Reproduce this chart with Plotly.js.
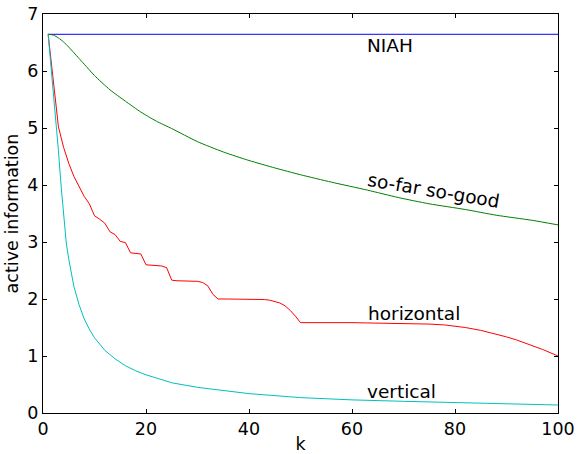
<!DOCTYPE html>
<html>
<head>
<meta charset="utf-8">
<script src="https://cdn.plot.ly/plotly-3.0.1.min.js"></script>
<style>html,body{margin:0;padding:0;background:#fff;}#chart{width:577px;height:454px;}</style>
</head>
<body>
<div id="chart"></div>
<script>
// ---- data ----
const kNiah = [1, 100];
const niah = [6.644, 6.644];

const kGood = [1, 2, 3, 4, 5, 6, 7, 8, 10, 13, 16, 19, 22, 25, 30, 35, 40, 45, 50, 56, 63, 69, 75, 82, 88, 95, 100];
const good = [6.644, 6.63, 6.58, 6.51, 6.42, 6.32, 6.22, 6.12, 5.92, 5.67, 5.47, 5.28, 5.12, 4.99, 4.76, 4.58, 4.43, 4.30, 4.18, 4.05, 3.91, 3.78, 3.67, 3.57, 3.47, 3.38, 3.30];

const kHoriz = [1, 2, 3, 4, 5, 6, 7, 8, 9, 10, 11, 12, 13, 14, 15, 16, 17, 18, 19, 20, 21, 22, 23, 24, 25, 26, 28, 30, 31, 32, 33, 34, 36, 40, 43, 44, 45, 46, 47, 48, 49, 50, 60, 70, 75, 78, 80, 82, 85, 88, 90, 92, 95, 97, 100];
const horiz = [6.644, 5.78, 5.02, 4.66, 4.38, 4.15, 3.96, 3.80, 3.67, 3.46, 3.40, 3.33, 3.18, 3.13, 3.01, 2.99, 2.81, 2.80, 2.79, 2.60, 2.59, 2.59, 2.58, 2.55, 2.33, 2.32, 2.32, 2.31, 2.29, 2.23, 2.08, 2.00, 2.00, 2.00, 1.99, 1.98, 1.96, 1.93, 1.88, 1.80, 1.70, 1.585, 1.585, 1.575, 1.56, 1.545, 1.525, 1.50, 1.45, 1.385, 1.335, 1.28, 1.185, 1.115, 1.00];

const kVert = [1, 1.5, 2, 2.5, 3, 3.5, 4, 4.5, 5, 5.5, 6, 7, 8, 9, 10, 12, 14, 16, 18, 20, 25, 30, 35, 40, 50, 60, 70, 80, 90, 100];
const vert = [6.644, 6.15, 5.6, 5.1, 4.6, 4.0, 3.45, 3.0, 2.7, 2.45, 2.22, 1.9, 1.65, 1.47, 1.32, 1.1, 0.95, 0.83, 0.74, 0.67, 0.53, 0.45, 0.39, 0.34, 0.27, 0.23, 0.205, 0.18, 0.16, 0.14];

const xTicks = [0, 20, 40, 60, 80, 100];
const yTicks = [0, 1, 2, 3, 4, 5, 6, 7];

const labels = ['NIAH', 'so-far so-good', 'horizontal', 'vertical'];
const labelK = [67.4, 75.9, 71.95, 69.7];
const labelY = [6.456, 3.91, 1.754, 0.386];
const labelAngle = [0, 9.5, 0, 0];

const FONT = 'DejaVu Sans, sans-serif';

const traces = [
  {x: kNiah, y: niah, mode: 'lines', line: {color: '#0000ff', width: 1}},
  {x: kGood, y: good, mode: 'lines', line: {color: '#008000', width: 1, shape: 'spline', smoothing: 0.6}},
  {x: kHoriz, y: horiz, mode: 'lines', line: {color: '#ff0000', width: 1}},
  {x: kVert, y: vert, mode: 'lines', line: {color: '#00bfbf', width: 1}}
];

const axisCommon = {
  showgrid: false, zeroline: false, showline: true, linecolor: '#000', linewidth: 1,
  mirror: 'ticks', ticks: 'inside', ticklen: 4, tickwidth: 1, tickcolor: '#000',
  tickfont: {family: FONT, size: 17.5, color: '#000'}
};

const layout = {
  width: 577, height: 454,
  margin: {l: 43, r: 19, t: 14, b: 41},
  paper_bgcolor: '#fff', plot_bgcolor: '#fff',
  showlegend: false,
  font: {family: FONT, color: '#000'},
  xaxis: Object.assign({}, axisCommon, {range: [0, 100], tickvals: xTicks, ticktext: xTicks.map(String),
    title: {text: 'k', font: {family: FONT, size: 17.5, color: '#000'}, standoff: 2}}),
  yaxis: Object.assign({}, axisCommon, {range: [0, 7], tickvals: yTicks, ticktext: yTicks.map(String),
    title: {text: 'active information', font: {family: FONT, size: 17.5, color: '#000'}, standoff: 4}}),
  annotations: labels.map((t, i) => ({
    text: t, x: labelK[i], y: labelY[i], xref: 'x', yref: 'y',
    showarrow: false, xanchor: 'center', yanchor: 'middle', textangle: labelAngle[i],
    font: {family: FONT, size: 18.5, color: '#000'}
  }))
};

Plotly.newPlot('chart', traces, layout, {displayModeBar: false, staticPlot: true});
</script>
</body>
</html>
